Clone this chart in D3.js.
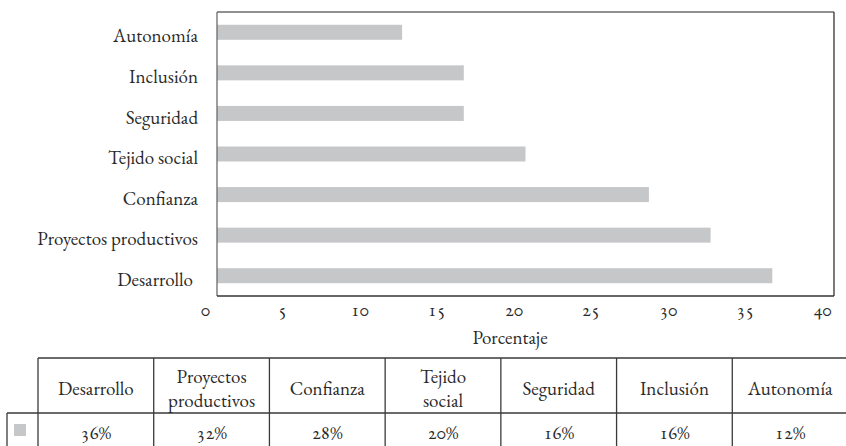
<!DOCTYPE html>
<html>
<head>
<meta charset="utf-8">
<script src="https://cdn.jsdelivr.net/npm/d3@7"></script>
<style>
  html, body { margin: 0; padding: 0; background: #fff; }
</style>
</head>
<body>
<svg id="chart" width="846" height="446"></svg>
<script>
// Categories as listed top to bottom in the bar chart
const categories = ["Autonomía", "Inclusión", "Seguridad", "Tejido social", "Confianza", "Proyectos productivos", "Desarrollo"];
const values = [12, 16, 16, 20, 28, 32, 36];

// Table columns (left to right) and their header lines
const tableCategories = ["Desarrollo", "Proyectos productivos", "Confianza", "Tejido social", "Seguridad", "Inclusión", "Autonomía"];
const tableHeaders = [["Desarrollo"], ["Proyectos", "productivos"], ["Confianza"], ["Tejido", "social"], ["Seguridad"], ["Inclusión"], ["Autonomía"]];
const xTicks = [0, 5, 10, 15, 20, 25, 30, 35, 40];
const axisTitle = "Porcentaje";

const barColor = "#c6c7c9";
const textColor = "#2a2a2a";
const fontFamily = '"EB Garamond", "Liberation Serif", serif';
const svg = d3.select("#chart");

const plot = { left: 217, right: 834, top: 12, bottom: 296 };

const x = d3.scaleLinear().domain([0, 40]).range([plot.left, plot.right]);
const y = d3.scaleBand().domain(categories).range([plot.top, plot.bottom]).paddingInner(0.63).paddingOuter(0.315);

// Bars
svg.append("g").selectAll("rect")
  .data(categories.map((c, i) => ({ c, v: values[i] })))
  .join("rect")
  .attr("x", x(0))
  .attr("y", d => y(d.c))
  .attr("width", d => x(d.v) - x(0))
  .attr("height", y.bandwidth())
  .attr("fill", barColor);

// Frame around the plot area
const frame = svg.append("g").attr("fill", "none").attr("stroke-width", 1.3);
frame.append("line").attr("x1", plot.left).attr("x2", plot.right).attr("y1", plot.top).attr("y2", plot.top).attr("stroke", "#6b6b6b");
frame.append("line").attr("x1", plot.left).attr("x2", plot.left).attr("y1", plot.top).attr("y2", plot.bottom).attr("stroke", "#6b6b6b");
frame.append("line").attr("x1", plot.right).attr("x2", plot.right).attr("y1", plot.top).attr("y2", plot.bottom).attr("stroke", "#333");
frame.append("line").attr("x1", plot.left).attr("x2", plot.right).attr("y1", plot.bottom).attr("y2", plot.bottom).attr("stroke", "#333");

// Category labels
const yAxis = svg.append("g")
  .attr("transform", `translate(${plot.left},0)`)
  .call(d3.axisLeft(y).tickSize(0).tickPadding(19));
yAxis.select(".domain").remove();
yAxis.selectAll("text").attr("dy", "0.53em");
// "Desarrollo" sits a little further from the frame than the others
yAxis.selectAll("text").filter(d => d === "Desarrollo").attr("dx", -5);

// Value axis labels (set slightly left of their ticks)
const xAxis = svg.append("g")
  .attr("transform", `translate(0,${plot.bottom})`)
  .call(d3.axisBottom(x).tickValues(xTicks).tickSize(0).tickPadding(7));
xAxis.select(".domain").remove();
xAxis.selectAll("text").attr("dx", -12);

svg.append("text")
  .attr("x", 510).attr("y", 344)
  .attr("text-anchor", "middle")
  .text(axisTitle);

// Data table under the chart
const tbl = { left: 38, legendLeft: 7, right: 846, top: 358, mid: 413, bottom: 447 };
const colX = d3.scaleBand().domain(tableCategories).range([tbl.left, tbl.right + 2]);
const tg = svg.append("g");
const lineColor = "#3a3a3a";

tg.append("line").attr("x1", tbl.left).attr("x2", tbl.right).attr("y1", tbl.top).attr("y2", tbl.top).attr("stroke", lineColor).attr("stroke-width", 1.3);
tg.append("line").attr("x1", tbl.legendLeft).attr("x2", tbl.right).attr("y1", tbl.mid).attr("y2", tbl.mid).attr("stroke", lineColor).attr("stroke-width", 1.3);
tg.append("line").attr("x1", tbl.left).attr("x2", tbl.left).attr("y1", tbl.top).attr("y2", tbl.bottom).attr("stroke", lineColor).attr("stroke-width", 1.3);
tg.append("line").attr("x1", tbl.legendLeft).attr("x2", tbl.legendLeft).attr("y1", tbl.mid).attr("y2", tbl.bottom).attr("stroke", lineColor).attr("stroke-width", 1.3);

tg.selectAll("line.col")
  .data(tableCategories.slice(1))
  .join("line")
  .attr("class", "col")
  .attr("x1", d => colX(d)).attr("x2", d => colX(d))
  .attr("y1", tbl.top).attr("y2", tbl.bottom)
  .attr("stroke", lineColor).attr("stroke-width", 1.3);

// Header cells
tableCategories.forEach((c, i) => {
  const lines = tableHeaders[i];
  const cx = colX(c) + colX.bandwidth() / 2;
  const t = tg.append("text").attr("text-anchor", "middle");
  if (lines.length === 1) {
    t.append("tspan").attr("x", cx).attr("y", 395).text(lines[0]);
  } else {
    t.append("tspan").attr("x", cx).attr("y", 383).text(lines[0]);
    t.append("tspan").attr("x", cx).attr("y", 407).text(lines[1]);
  }
});

// Value cells
const valueByCat = new Map(categories.map((c, i) => [c, values[i]]));
tg.selectAll("text.val")
  .data(tableCategories)
  .join("text")
  .attr("class", "val")
  .attr("x", d => colX(d) + colX.bandwidth() / 2)
  .attr("y", 439)
  .attr("text-anchor", "middle")
  .text(d => valueByCat.get(d) + "%");

// Legend swatch
tg.append("rect").attr("x", 14).attr("y", 424).attr("width", 12).attr("height", 12).attr("fill", barColor);

// Shared typography for every label
svg.selectAll("text")
  .attr("fill", textColor)
  .style("font-family", fontFamily)
  .style("font-size", "19px")
  .style("font-variant-numeric", "oldstyle-nums");
</script>
</body>
</html>
